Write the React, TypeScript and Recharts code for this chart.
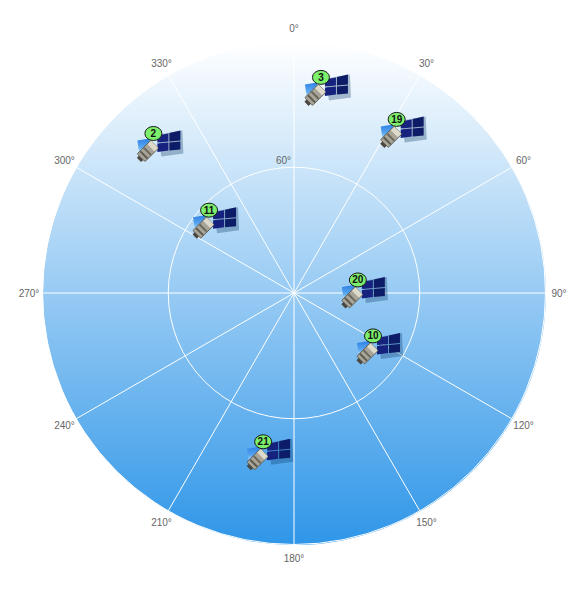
import { RadarChart, Radar, PolarGrid, PolarAngleAxis, PolarRadiusAxis } from "recharts";

const satelliteIds = [3, 19, 2, 11, 20, 10, 21];
const azimuths = [9.1, 33.6, 318, 312.7, 87.5, 121.9, 188.9];
const radials = [0.828, 0.781, 0.8, 0.427, 0.278, 0.398, 0.639];
const angleTicks = [0, 30, 60, 90, 120, 150, 180, 210, 240, 270, 300, 330];
const radiusTicks = [0.5, 1];

const chartData = satelliteIds.map((id, i) => ({
  id,
  azimuth: azimuths[i],
  radial: radials[i],
}));

const CX = 294;
const CY = 293;
const R = 251.5;
const LABEL_RADIUS = 265;
const FONT = "Liberation Sans, Arial, sans-serif";

function SatelliteDot({ cx, cy, payload }: any) {
  const id = payload?.id ?? payload?.payload?.id;
  return (
    <g transform={`translate(${cx},${cy})`}>
      <g filter="url(#iconSoft)">
        {/* shadow */}
        <path d="M-1 -9 L23 -13 L24 10 L2 13 Z" fill="#0b2a5c" opacity={0.3} />
        {/* dark panels */}
        <path d="M-2 -8 L9 -10 L9 -2 L-2 -1 Z" fill="#12227e" />
        <path d="M-2 0 L9 -1 L9 7 L-2 8.5 Z" fill="#12227e" />
        <path d="M10 -10.5 L21 -13 L21 -3 L10 -2 Z" fill="#0f1c66" />
        <path d="M10 -1 L21 -2 L21 6 L10 7 Z" fill="#0f1c66" />
        {/* light panel */}
        <path d="M-22 -3 L-10 -5 L-8 9 L-20 11 Z" fill="url(#lightPanel)" />
        {/* body */}
        <g transform="translate(-10.5,6.5) rotate(-45)">
          <rect x={-11} y={-5.5} width={19} height={11} rx={1} fill="#a8a498" stroke="#57544a" strokeWidth={0.8} />
          <rect x={-8} y={-5} width={2} height={10} fill="#5d5a50" />
          <rect x={-3} y={-5} width={2} height={10} fill="#6b685d" />
          <rect x={3} y={-5} width={5} height={10} fill="#dedacb" />
          <rect x={-14} y={-3} width={3} height={6} fill="#4a473f" />
        </g>
      </g>
      <ellipse cx={-6} cy={-10} rx={8.5} ry={7} fill="#7cf06c" stroke="#1a1a1a" strokeWidth={1} />
      <text x={-6} y={-6.5} textAnchor="middle" fontSize={10} fontWeight="bold" fill="#111" fontFamily={FONT}>
        {id}
      </text>
    </g>
  );
}

function AngleTick({ x, y, payload }: any) {
  const dx = x - CX;
  const dy = y - CY;
  const len = Math.hypot(dx, dy) || 1;
  return (
    <text
      x={CX + (dx / len) * LABEL_RADIUS}
      y={CY + (dy / len) * LABEL_RADIUS}
      dy={3.5}
      textAnchor="middle"
      fontSize={10}
      fontFamily={FONT}
      fill="#666666"
    >
      {payload.value}°
    </text>
  );
}

function RadiusTick({ x, y, payload }: any) {
  if (payload.value !== 0.5) return <g />;
  return (
    <text x={x - 3} y={y - 3} textAnchor="end" fontSize={10} fontFamily={FONT} fill="#666666">
      60°
    </text>
  );
}

export default function App() {
  return (
    <div style={{ width: 580, height: 599, position: "absolute", left: 0, top: 0 }}>
      <div
        style={{
          position: "absolute",
          left: CX - R,
          top: CY - R,
          width: R * 2,
          height: R * 2,
          borderRadius: "50%",
          background: "linear-gradient(to bottom, #ffffff 0%, #2f96e8 100%)",
        }}
      />
      <div style={{ position: "absolute", left: 0, top: 0 }}>
        <RadarChart
          width={580}
          height={599}
          data={chartData}
          cx={CX}
          cy={CY}
          innerRadius={0}
          outerRadius={R}
          startAngle={90}
          endAngle={-270}
          margin={{ top: 0, right: 0, bottom: 0, left: 0 }}
        >
          <defs>
            <linearGradient id="lightPanel" x1="0" y1="0" x2="0" y2="1">
              <stop offset="0%" stopColor="#2f80e6" />
              <stop offset="55%" stopColor="#5aa8f0" />
              <stop offset="100%" stopColor="#e8f4fc" />
            </linearGradient>
            <filter id="iconSoft" x="-20%" y="-20%" width="140%" height="140%">
              <feGaussianBlur stdDeviation="0.4" />
            </filter>
          </defs>
          <PolarGrid gridType="circle" stroke="#ffffff" strokeWidth={1} />
          <PolarAngleAxis
            dataKey="azimuth"
            type="number"
            domain={[0, 360]}
            ticks={angleTicks as any}
            tickLine={false}
            axisLine={false}
            tick={<AngleTick />}
          />
          <PolarRadiusAxis
            angle={90}
            orientation="left"
            domain={[0, 1]}
            ticks={radiusTicks as any}
            axisLine={false}
            tickLine={false}
            tick={<RadiusTick />}
          />
          <Radar
            dataKey="radial"
            stroke="none"
            fill="none"
            fillOpacity={0}
            dot={(props: any) => <SatelliteDot key={props.index} {...props} />}
            isAnimationActive={false}
          />
        </RadarChart>
      </div>
    </div>
  );
}
